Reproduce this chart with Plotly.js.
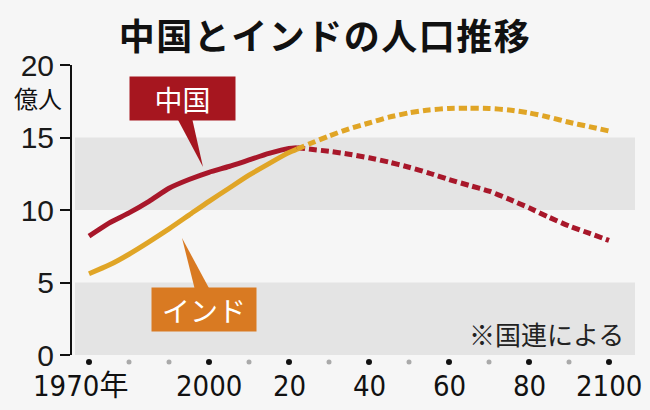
<!DOCTYPE html>
<html><head><meta charset="utf-8">
<script src="https://cdn.plot.ly/plotly-3.0.1.min.js"></script>
<style>
html,body{margin:0;padding:0;background:#f6f6f6;}
#chart{width:650px;height:410px;}
.gtitle{letter-spacing:1.5px;}
</style></head><body><div id="chart"></div>
<script>
const years = [1970,1975,1980,1985,1990,1995,2000,2005,2010,2015,2020,2022,2025,2030,2035,2040,2045,2050,2055,2060,2065,2070,2075,2080,2085,2090,2095,2100];
const china = [8.2,9.1,9.8,10.6,11.5,12.1,12.6,13.0,13.45,13.9,14.25,14.3,14.2,14.05,13.85,13.6,13.3,12.95,12.55,12.1,11.7,11.3,10.75,10.15,9.5,8.9,8.4,7.9];
const india = [5.6,6.2,6.95,7.8,8.7,9.65,10.6,11.5,12.4,13.2,13.96,14.2,14.55,15.1,15.6,16.0,16.4,16.7,16.9,17.0,17.02,17.0,16.9,16.7,16.4,16.05,15.75,15.45];
const projStart = 2022;
const tickYears = [1970,2000,2020,2040,2060,2080,2100];
const tickLabels = ['1970年','2000','20','40','60','80','2100'];
const dotYears = [1970,1980,1990,2000,2010,2020,2030,2040,2050,2060,2070,2080,2090,2100];
const yTicks = [0,5,10,15,20];
const bandRanges = [[0,5],[10,15]];

const W=650,H=410,L=72,R=15,T=65,B=55;
const pw=W-L-R, ph=H-T-B;
const px=v=>(v-L)/pw, py=v=>(H-B-v)/ph;

const RED='#a8172a', GOLD='#e0a526', REDBOX='#a6161f', ORBOX='#d97a22';
const cjk='"Noto Sans CJK JP", sans-serif';

function seg(arr, solid){
  const xs=[],ys=[];
  years.forEach((y,i)=>{ if(solid? y<=projStart : y>=projStart){xs.push(y);ys.push(arr[i]);} });
  return {x:xs,y:ys};
}
const traces=[];
[[china,RED],[india,GOLD]].forEach(([arr,col])=>{
  const s=seg(arr,true), d=seg(arr,false);
  traces.push({x:s.x,y:s.y,mode:'lines',line:{color:col,width:5,shape:'spline',smoothing:0.6},hoverinfo:'skip'});
  traces.push({x:d.x,y:d.y,mode:'lines',line:{color:col,width:5,dash:'8px,4px',shape:'spline',smoothing:0.6},hoverinfo:'skip'});
});

const shapes = bandRanges.map(([a,b])=>({type:'rect',layer:'below',xref:'x',yref:'y',x0:1966.5,x1:2106.5,y0:a,y1:b,fillcolor:'#e4e4e4',line:{width:0}}));
dotYears.forEach(y=>{
  const big=tickYears.includes(y);
  const r=big?3:2.5;
  shapes.push({type:'circle',xref:'x',yref:'paper',xsizemode:'pixel',xanchor:y,x0:-r,x1:r,
    y0:py(362+r),y1:py(362-r),fillcolor:big?'#111':'#aaa',line:{width:0},layer:'above'});
});
function wedge(p,col){
  return {type:'path',layer:'above',xref:'paper',yref:'paper',fillcolor:col,line:{width:0},
    path:`M ${px(p[0][0])},${py(p[0][1])} L ${px(p[1][0])},${py(p[1][1])} L ${px(p[2][0])},${py(p[2][1])} Z`};
}
shapes.push(wedge([[177,118],[192,118],[203,167]],REDBOX));
shapes.push(wedge([[195,290],[210,290],[182,238]],ORBOX));

const annotations=[];
tickYears.forEach((y,i)=>{
  annotations.push({x:y,y:0,xref:'x',yref:'paper',yanchor:'middle',xanchor:'center',yshift:-31,xshift:i===0?-9:0,
    text:tickLabels[i],showarrow:false,font:{family:'"Liberation Sans Narrow","DejaVu Sans Condensed","Noto Sans CJK JP",sans-serif',size:29,color:'#111'}});
});
const box=(cx,cy,w,h,txt,col)=>({x:px(cx),y:py(cy),xref:'paper',yref:'paper',xanchor:'center',yanchor:'middle',
  text:txt,showarrow:false,width:w,height:h,borderpad:0,bgcolor:col,font:{family:cjk,size:28,color:'#fff'}});
annotations.push(box(182.5,98.5,105,43,'中国',REDBOX));
annotations.push(box(204,309.5,104,43,'インド',ORBOX));
annotations.push({x:px(38),y:py(97),xref:'paper',yref:'paper',xanchor:'center',yanchor:'middle',text:'億人',showarrow:false,font:{family:cjk,size:24,color:'#111'}});
annotations.push({x:px(626),y:py(333),xref:'paper',yref:'paper',xanchor:'right',yanchor:'middle',text:'※国連による',showarrow:false,font:{family:cjk,size:26,color:'#222'}});

const layout={
  width:W,height:H,margin:{l:L,r:R,t:T,b:B},
  paper_bgcolor:'#f6f6f6',plot_bgcolor:'#f6f6f6',showlegend:false,
  title:{text:'中国とインドの人口推移',x:0.5,xref:'container',y:1-37/H,yref:'container',yanchor:'middle',
    font:{family:cjk,size:36,color:'#111',weight:'bold'}},
  xaxis:{range:[1965.75,2106.5],showgrid:false,zeroline:false,showline:false,showticklabels:false,ticks:''},
  yaxis:{range:[0,20],tickvals:yTicks,showgrid:false,zeroline:false,showline:true,linecolor:'#111',linewidth:2,
    ticks:'outside',ticklen:10,tickwidth:2,tickcolor:'#111',
    tickfont:{family:'"Liberation Sans",sans-serif',size:30,color:'#1a1a1a'}},
  shapes:shapes,annotations:annotations
};
Plotly.newPlot('chart',traces,layout,{staticPlot:true,displayModeBar:false});
</script></body></html>
